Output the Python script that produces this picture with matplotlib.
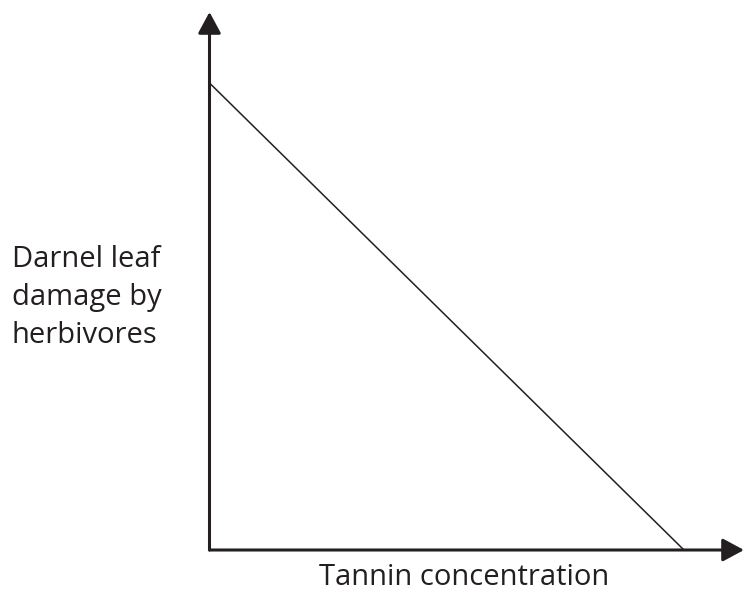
import matplotlib.pyplot as plt

# data (relative units, line runs from top of y to end of x)
tannin = [0.0, 1.0]
damage = [1.0, 0.0]
ylabel_lines = ["Darnel leaf", "damage by", "herbivores"]
xlabel = "Tannin concentration"

W, H = 744, 592
ink = "#231f20"
plt.rcParams['font.family'] = ['Open Sans', 'DejaVu Sans']

fig = plt.figure(figsize=(W / 100, H / 100), dpi=100)

# axes from origin (209.5, 550) to arrow tips (744, 12) in pixels
ox, oy = 209.5, 550
ax = fig.add_axes([ox / W, (H - oy) / H, (W - ox) / W, (oy - 12) / H])
ax.set_xlim(0, (W - ox) / (684 - ox))
ax.set_ylim(0, (oy - 12) / (oy - 83))
ax.axis("off")

ax.plot(tannin, damage, color=ink, lw=1.1, solid_capstyle="butt")

arrow = dict(arrowstyle="-|>,head_length=13,head_width=7", mutation_scale=1,
             color=ink, lw=2.2, shrinkA=0, shrinkB=0)
ax.annotate("", xy=(1, 0), xytext=(0, 0), xycoords="axes fraction",
            textcoords="axes fraction", arrowprops=arrow, annotation_clip=False)
ax.annotate("", xy=(0, 1), xytext=(0, 0), xycoords="axes fraction",
            textcoords="axes fraction", arrowprops=arrow, annotation_clip=False)

for i, line in enumerate(ylabel_lines):
    fig.text(12 / W, 1 - (267 + 38 * i) / H, line, ha="left", va="baseline",
             fontsize=21, color=ink)
fig.text(464.5 / W, 1 - 585 / H, xlabel, ha="center", va="baseline",
         fontsize=21, color=ink)

fig.savefig("out.png", dpi=100)
